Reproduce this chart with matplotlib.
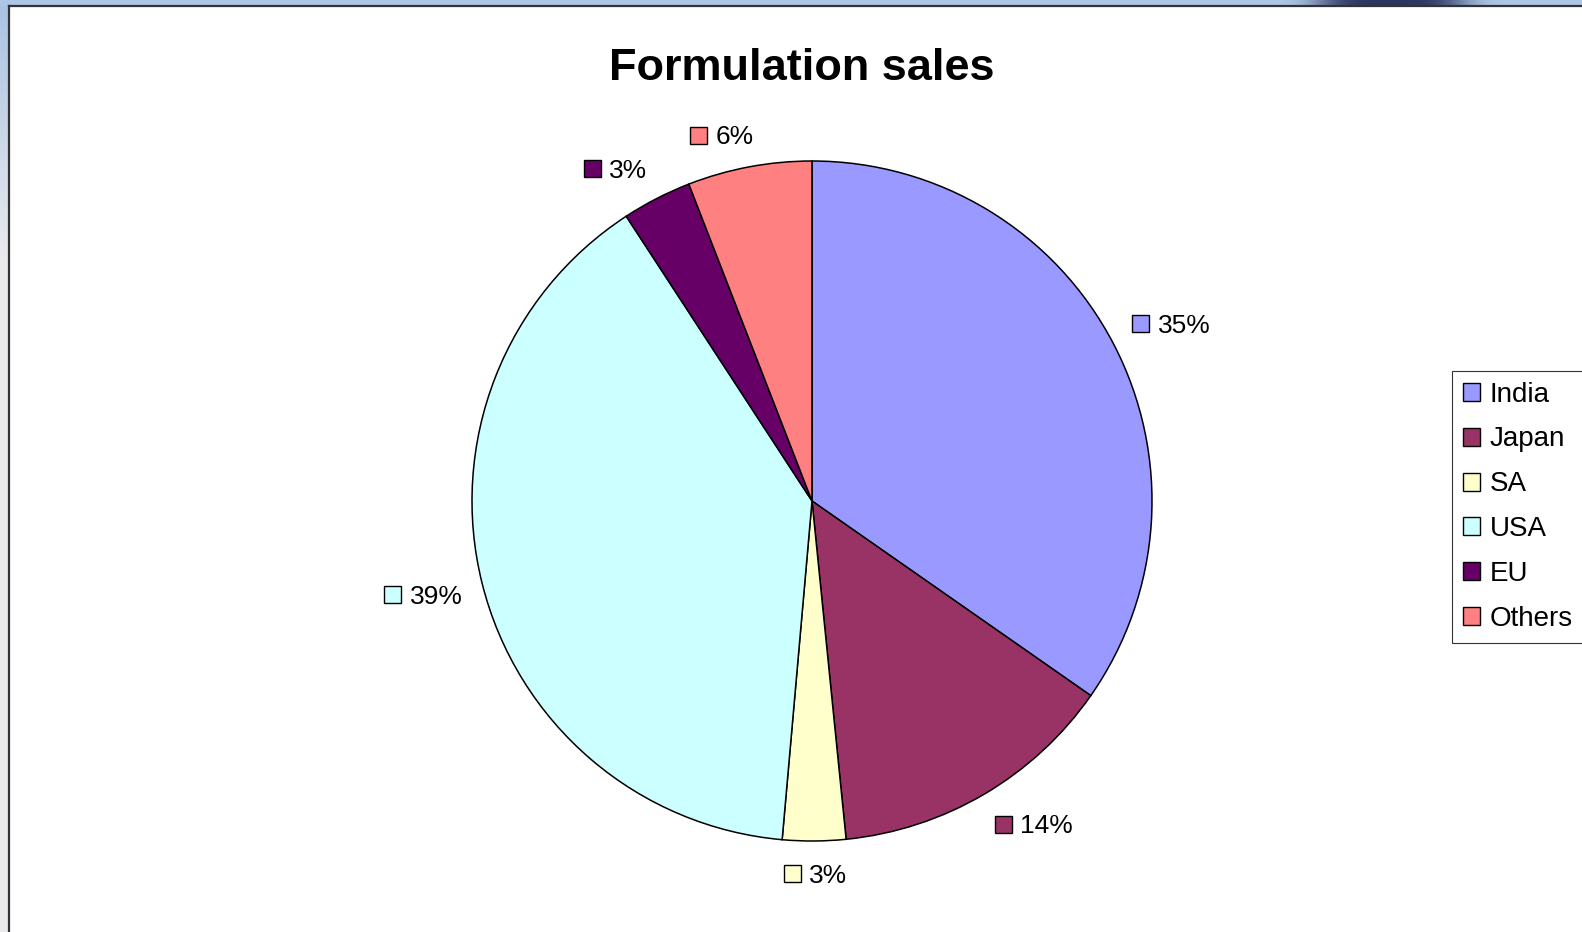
import numpy as np
import matplotlib
matplotlib.use("agg")
import matplotlib.pyplot as plt
from matplotlib.lines import Line2D
from matplotlib.patches import Patch

plt.rcParams["font.family"] = ["Liberation Sans", "DejaVu Sans"]

# Data
regions = ["India", "Japan", "SA", "USA", "EU", "Others"]
shares = [34.7, 13.7, 3.0, 39.4, 3.3, 5.9]
colors = ["#9999FF", "#993366", "#FFFFCC", "#CCFFFF", "#660066", "#FF8080"]

W, H = 1582, 932
fig = plt.figure(figsize=(W / 100, H / 100), dpi=100)
fig.patch.set_facecolor("white")

# slide background peeking out at the top and left edges
left_strip = np.ones((H, 8, 3))
fade = np.clip(np.arange(H) / 260.0, 0, 1)[:, None]
top_col = np.array([0.66, 0.76, 0.89])
low_col = np.array([0.92, 0.92, 0.93])
left_strip[:] = (top_col * (1 - fade) + low_col * fade)[:, None, :]
fig.figimage(left_strip, xo=0, yo=0)
top_strip = np.ones((6, W, 3)) * np.array([0.68, 0.78, 0.90])
xs = np.arange(W)
blob = np.exp(-((xs - 1390) / 75.0) ** 4)[None, :, None]
top_strip = top_strip * (1 - blob) + np.array([0.17, 0.21, 0.38]) * blob
fig.figimage(top_strip, xo=0, yo=H - 6)

# chart frame
fig.add_artist(Line2D([9 / W, 9 / W], [0, 1 - 6 / H], color="#333333", lw=1.6))
fig.add_artist(Line2D([9 / W, 1], [1 - 6 / H, 1 - 6 / H], color="#333333", lw=1.6))

# pie axes: centre (812, 501) px, radius 340 px
cx, cy, R = 812, 501, 340
ax = fig.add_axes([(cx - R) / W, (H - cy - R) / H, 2 * R / W, 2 * R / H])
wedges, _ = ax.pie(shares, colors=colors, startangle=90, counterclock=False,
                   radius=1.0, wedgeprops=dict(edgecolor="black", linewidth=1.1))
ax.set_xlim(-1, 1)
ax.set_ylim(-1, 1)
ax.set_aspect("equal")
ax.axis("off")

fig.text(802 / W, 1 - 68 / H, "Formulation sales", ha="center", va="center",
         fontsize=32.5, fontweight="bold")

# data labels: small colour square + percentage, Excel style
fs = 19
em = fs * 100 / 72 / R  # font em in data units
sq = 17 / R
gap = 9 / R
lh = 24 / R
for w, val, col in zip(wedges, shares, colors):
    ang = np.deg2rad((w.theta1 + w.theta2) / 2)
    c, s = np.cos(ang), np.sin(ang)
    txt = f"{round(val)}%"
    tw = ((len(txt) - 1) * 0.556 + 0.889) * em
    gw = sq + gap + tw
    px, py = 1.06 * c, 1.06 * s
    gx = px + gw / 2 * np.clip(4 * c, -1, 1)
    gy = py + lh / 2 * np.clip(2 * s, -1, 1)
    left = gx - gw / 2
    ax.plot(left + sq / 2, gy, marker="s", markersize=17 * 0.72, mfc=col,
            mec="black", mew=1.0, clip_on=False)
    ax.text(left + sq + gap, gy, txt, ha="left", va="center_baseline",
            fontsize=fs, clip_on=False)

handles = [Patch(facecolor=col, edgecolor="black", linewidth=1.0) for col in colors]
leg = fig.legend(handles, regions, loc="upper left",
                 bbox_to_anchor=(1452 / W, 1 - 371 / H), fontsize=20,
                 frameon=True, fancybox=False, shadow=False,
                 handlelength=0.62, handleheight=0.62, handletextpad=0.35,
                 labelspacing=0.68, borderpad=0.38, borderaxespad=0)
leg.get_frame().set_edgecolor("black")
leg.get_frame().set_linewidth(0.8)

fig.savefig("out.png", dpi=100, facecolor="white")
